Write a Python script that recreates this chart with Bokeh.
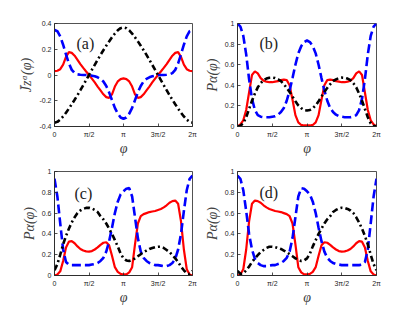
import math
from bokeh.plotting import figure
from bokeh.layouts import column, row
from bokeh.models import Range1d, FixedTicker, Label
from bokeh.embed import file_html
from bokeh.resources import INLINE

# sample grid: phi = k*pi/24, k = 0..48
PHI_INDEX = list(range(49))
phi = [k * math.pi / 24 for k in PHI_INDEX]

X_TICKS = [0, math.pi / 2, math.pi, 3 * math.pi / 2, 2 * math.pi]
X_TICK_LABELS = ["0", "π/2", "π", "3π/2", "2π"]
Y_TICKS_A = [-0.4, -0.2, 0, 0.2, 0.4]
Y_TICK_LABELS_A = ["-0.4", "-0.2", "0", "0.2", "0.4"]
Y_TICKS_P = [0, 0.2, 0.4, 0.6, 0.8, 1]
Y_TICK_LABELS_P = ["0", "0.2", "0.4", "0.6", "0.8", "1"]

# (a)
A_black = [-0.370, -0.364, -0.347, -0.322, -0.293, -0.261, -0.227, -0.192, -0.156, -0.118, -0.079, -0.040, 0.000,
           0.040, 0.079, 0.118, 0.156, 0.192, 0.227, 0.261, 0.293, 0.322, 0.347, 0.364, 0.370,
           0.364, 0.347, 0.322, 0.293, 0.261, 0.227, 0.192, 0.156, 0.118, 0.079, 0.040, 0.000,
           -0.040, -0.079, -0.118, -0.156, -0.192, -0.227, -0.261, -0.293, -0.322, -0.347, -0.364, -0.370]
A_red = [0.030, 0.033, 0.045, 0.080, 0.140, 0.178, 0.172, 0.150, 0.118, 0.085, 0.055, 0.027, 0.000,
         -0.028, -0.058, -0.090, -0.120, -0.150, -0.172, -0.178, -0.150, -0.090, -0.050, -0.032, -0.026,
         -0.032, -0.050, -0.090, -0.150, -0.178, -0.172, -0.150, -0.120, -0.090, -0.058, -0.028, 0.000,
         0.027, 0.055, 0.085, 0.118, 0.150, 0.172, 0.178, 0.140, 0.080, 0.045, 0.033, 0.030]
A_blue = [0.350, 0.340, 0.300, 0.235, 0.160, 0.090, 0.040, 0.015, 0.005, 0.002, 0.000, 0.000, -0.002,
          -0.005, -0.010, -0.018, -0.030, -0.050, -0.085, -0.135, -0.195, -0.255, -0.300, -0.330, -0.340,
          -0.330, -0.300, -0.255, -0.195, -0.135, -0.085, -0.050, -0.030, -0.018, -0.010, -0.005, -0.002,
          0.000, 0.000, 0.002, 0.005, 0.015, 0.040, 0.090, 0.160, 0.235, 0.300, 0.340, 0.350]

# (b)
B_blue = [1.00, 0.97, 0.88, 0.70, 0.46, 0.27, 0.16, 0.11, 0.095, 0.09, 0.09, 0.09, 0.095,
          0.10, 0.115, 0.14, 0.18, 0.25, 0.35, 0.47, 0.60, 0.71, 0.78, 0.82, 0.835,
          0.82, 0.78, 0.71, 0.60, 0.47, 0.35, 0.25, 0.18, 0.14, 0.115, 0.10, 0.095,
          0.09, 0.09, 0.09, 0.095, 0.11, 0.16, 0.27, 0.46, 0.70, 0.88, 0.97, 1.00]
B_red = [0.00, 0.02, 0.06, 0.16, 0.33, 0.50, 0.535, 0.515, 0.47, 0.445, 0.435, 0.43, 0.43,
         0.435, 0.44, 0.45, 0.455, 0.45, 0.40, 0.26, 0.11, 0.04, 0.015, 0.01, 0.01,
         0.01, 0.015, 0.04, 0.11, 0.26, 0.40, 0.45, 0.455, 0.45, 0.44, 0.435, 0.43,
         0.43, 0.435, 0.445, 0.47, 0.515, 0.535, 0.50, 0.33, 0.16, 0.06, 0.02, 0.00]
B_black = [0.0, 0.008, 0.03, 0.09, 0.17, 0.25, 0.32, 0.38, 0.42, 0.45, 0.465, 0.473, 0.475,
           0.47, 0.458, 0.44, 0.41, 0.375, 0.335, 0.29, 0.245, 0.205, 0.178, 0.16, 0.155,
           0.16, 0.178, 0.205, 0.245, 0.29, 0.335, 0.375, 0.41, 0.44, 0.458, 0.47, 0.475,
           0.473, 0.465, 0.45, 0.42, 0.38, 0.32, 0.25, 0.17, 0.09, 0.03, 0.008, 0.0]

# (c)
C_blue = [0.93, 0.76, 0.50, 0.25, 0.13, 0.105, 0.10, 0.10, 0.10, 0.10,
          0.10, 0.10, 0.10, 0.105, 0.11, 0.12, 0.14, 0.17, 0.23, 0.33,
          0.46, 0.60, 0.71, 0.78, 0.81, 0.835, 0.84, 0.76, 0.56, 0.36,
          0.23, 0.17, 0.14, 0.12, 0.11, 0.10, 0.10, 0.095, 0.09, 0.09,
          0.10, 0.12, 0.16, 0.25, 0.40, 0.62, 0.82, 0.93, 0.96]
C_red = [0.00, 0.01, 0.04, 0.14, 0.27, 0.325, 0.33, 0.31, 0.28, 0.255,
         0.24, 0.232, 0.23, 0.235, 0.25, 0.27, 0.295, 0.315, 0.32, 0.29,
         0.19, 0.08, 0.035, 0.015, 0.01, 0.01, 0.03, 0.08, 0.30, 0.50,
         0.57, 0.59, 0.60, 0.61, 0.615, 0.62, 0.63, 0.64, 0.655, 0.675,
         0.70, 0.715, 0.72, 0.69, 0.52, 0.25, 0.06, 0.01, 0.00]
C_black = [0.05, 0.11, 0.20, 0.30, 0.38, 0.45, 0.51, 0.56, 0.60, 0.625,
           0.64, 0.65, 0.652, 0.645, 0.63, 0.61, 0.57, 0.54, 0.50, 0.45,
           0.40, 0.34, 0.28, 0.21, 0.165, 0.145, 0.14, 0.15, 0.165, 0.185,
           0.205, 0.225, 0.24, 0.255, 0.265, 0.273, 0.277, 0.276, 0.265, 0.245,
           0.225, 0.195, 0.165, 0.13, 0.085, 0.05, 0.02, 0.015, 0.045]

# (d)
D_blue = [0.96, 0.93, 0.82, 0.62, 0.40, 0.25, 0.16, 0.12, 0.10,
          0.09, 0.09, 0.095, 0.10, 0.10, 0.11, 0.12, 0.14, 0.17, 0.23,
          0.36, 0.56, 0.76, 0.84, 0.835, 0.81, 0.78, 0.71, 0.60, 0.46,
          0.33, 0.23, 0.17, 0.14, 0.12, 0.11, 0.105, 0.10, 0.10, 0.10,
          0.10, 0.10, 0.10, 0.10, 0.105, 0.13, 0.25, 0.50, 0.76, 0.93]
D_red = [0.00, 0.01, 0.06, 0.25, 0.52, 0.69, 0.72, 0.715, 0.70,
         0.675, 0.655, 0.64, 0.63, 0.62, 0.615, 0.61, 0.60, 0.59, 0.57,
         0.50, 0.30, 0.08, 0.03, 0.01, 0.01, 0.015, 0.035, 0.08, 0.19,
         0.29, 0.32, 0.315, 0.295, 0.27, 0.25, 0.235, 0.23, 0.232, 0.24,
         0.255, 0.28, 0.31, 0.33, 0.325, 0.27, 0.14, 0.04, 0.01, 0.00]
D_black = [0.045, 0.015, 0.02, 0.05, 0.085, 0.13, 0.165, 0.195, 0.225,
           0.245, 0.265, 0.276, 0.277, 0.273, 0.265, 0.255, 0.24, 0.225, 0.205,
           0.185, 0.165, 0.15, 0.14, 0.145, 0.165, 0.21, 0.28, 0.34, 0.40,
           0.45, 0.50, 0.54, 0.57, 0.61, 0.63, 0.645, 0.652, 0.65, 0.64,
           0.625, 0.60, 0.56, 0.51, 0.45, 0.38, 0.30, 0.20, 0.11, 0.05]

PANEL_LABELS = ["(a)", "(b)", "(c)", "(d)"]
YLABEL_A = "J\u0304z\u1d45(φ)"
YLABEL_P = "Pα(φ)"
XLABEL = "φ"

AX_COLOR = "#262626"


def make_panel(red, blue, black, yticks, yticklabels, ylo, yhi, ylabel, tag, lab_x, lab_y,
               left, right, width, height, top, bottom):
    p = figure(width=width, height=height,
               min_border_left=left, min_border_right=right,
               min_border_top=top, min_border_bottom=bottom,
               x_range=Range1d(0, 2 * math.pi), y_range=Range1d(ylo, yhi),
               output_backend="svg", toolbar_location=None)
    p.grid.visible = False
    p.outline_line_color = AX_COLOR
    p.outline_line_width = 0.8
    p.background_fill_color = "white"
    p.border_fill_color = "white"

    p.xaxis.ticker = FixedTicker(ticks=X_TICKS)
    p.xaxis.major_label_overrides = {t: s for t, s in zip(X_TICKS, X_TICK_LABELS)}
    p.yaxis.ticker = FixedTicker(ticks=yticks)
    p.yaxis.major_label_overrides = {t: s for t, s in zip(yticks, yticklabels)}
    for ax in (p.xaxis[0], p.yaxis[0]):
        ax.major_tick_in = 3
        ax.major_tick_out = 0
        ax.minor_tick_line_color = None
        ax.axis_line_color = AX_COLOR
        ax.axis_line_width = 0.8
        ax.major_tick_line_color = AX_COLOR
        ax.major_tick_line_width = 0.8
        ax.major_label_text_font = "Liberation Sans"
        ax.major_label_text_font_size = "7px"
        ax.major_label_text_color = AX_COLOR
        ax.axis_label_text_font = "Liberation Serif"
        ax.axis_label_text_font_style = "italic"
        ax.axis_label_text_font_size = "14px"
        ax.axis_label_text_color = "#404040"
    p.xaxis.major_label_standoff = 4
    p.yaxis.major_label_standoff = 3
    p.xaxis.axis_label = XLABEL
    p.xaxis.axis_label_standoff = 0
    p.yaxis.axis_label = ylabel
    p.yaxis.axis_label_standoff = 2

    p.line(phi, red, line_color="#ff0000", line_width=2.2)
    p.line(phi, blue, line_color="#0000ff", line_width=2.6, line_dash="9 4")
    p.line(phi, black, line_color="black", line_width=2.6, line_dash="6 3 2 3")

    p.add_layout(Label(x=lab_x, y=lab_y, text=tag, text_font="Liberation Serif",
                       text_font_size="16px", text_baseline="middle", text_align="left",
                       text_color="#222222"))
    return p


# frames: (a) x 54-192, (b) x 237-376; row 1 y 23-126, row 2 y 171-275
pa = make_panel(A_red, A_blue, A_black, Y_TICKS_A, Y_TICK_LABELS_A, -0.4, 0.4, YLABEL_A,
                PANEL_LABELS[0], 1.0, 0.245, 54, 5, 197, 162, 23, 36)
pb = make_panel(B_red, B_blue, B_black, Y_TICKS_P, Y_TICK_LABELS_P, 0, 1, YLABEL_P,
                PANEL_LABELS[1], 0.99, 0.806, 40, 10, 189, 162, 23, 36)
pc = make_panel(C_red, C_blue, C_black, Y_TICKS_P, Y_TICK_LABELS_P, 0, 1, YLABEL_P,
                PANEL_LABELS[2], 0.91, 0.79, 54, 5, 197, 149, 9, 36)
pd = make_panel(D_red, D_blue, D_black, Y_TICKS_P, Y_TICK_LABELS_P, 0, 1, YLABEL_P,
                PANEL_LABELS[3], 0.99, 0.80, 40, 10, 189, 149, 9, 36)

layout = column(row(pa, pb), row(pc, pd))

with open("out.html", "w") as f:
    f.write(file_html(layout, INLINE))
